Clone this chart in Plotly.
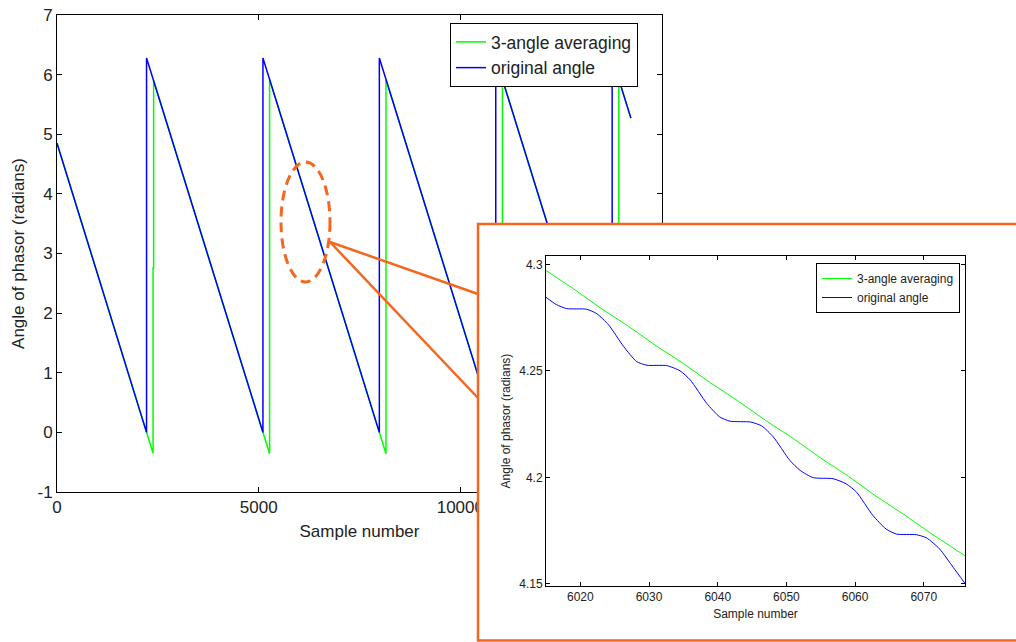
import plotly.graph_objects as go

W, H = 1016, 642

# ---- main chart: phase angle over the whole record (sawtooth vertices) ----
orig_x = [0, 2220, 2220, 5106, 5106, 7992, 7992, 10878, 10878, 13764, 13764, 14229]
orig_y = [4.85, 0.0, 6.28, 0.0, 6.28, 0.0, 6.28, 0.0, 6.28, 0.0, 6.28, 5.27]

avg_x = [0, 2220, 2382, 2382, 2396, 2396, 5106, 5271, 5271, 7992, 8157, 8157,
         10878, 11043, 11043, 13764, 13929, 13929, 14229]
avg_y = [4.85, 0.0, -0.35, 2.76, 2.76, 5.90, 0.0, -0.36, 5.92, 0.0, -0.36, 5.92,
         0.0, -0.36, 5.92, 0.0, -0.36, 5.92, 5.27]

main_xticks = [0, 5000, 10000, 15000]
main_yticks = [-1, 0, 1, 2, 3, 4, 5, 6, 7]
main_yticklabels = ["-1", "0", "1", "2", "3", "4", "5", "6", "7"]

# ---- zoomed view around sample 6015..6076 ----
zoom_orig_x = [6015.0, 6016.5, 6018.0, 6020.9, 6022.4, 6024.1, 6026.3, 6028.2, 6029.7,
               6032.6, 6034.5, 6036.0, 6038.4, 6040.3, 6041.8, 6044.8, 6046.4, 6048.1,
               6050.5, 6052.0, 6053.9, 6056.8, 6058.7, 6060.2, 6062.6, 6064.5, 6066.0,
               6068.9, 6070.4, 6072.3, 6074.3, 6076.0]
zoom_orig_y = [4.2846, 4.2812, 4.2793, 4.2790, 4.2769, 4.2717, 4.2615, 4.2544, 4.2527,
               4.2525, 4.2501, 4.2458, 4.2348, 4.2284, 4.2264, 4.2260, 4.2242, 4.2190,
               4.2080, 4.2033, 4.1999, 4.1994, 4.1970, 4.1931, 4.1821, 4.1758, 4.1734,
               4.1731, 4.1716, 4.1664, 4.1577, 4.1502]

zoom_avg_x = [6015, 6019, 6023, 6027, 6031, 6035, 6039, 6043, 6047, 6051, 6055,
              6059, 6063, 6067, 6071, 6076]
zoom_avg_y = [4.2972, 4.2886, 4.2794, 4.2710, 4.2619, 4.2535, 4.2443, 4.2358, 4.2267,
              4.2183, 4.2091, 4.2006, 4.1913, 4.1828, 4.1738, 4.1632]

zoom_xticks = [6020, 6030, 6040, 6050, 6060, 6070]
zoom_yticks = [4.15, 4.2, 4.25, 4.3]
zoom_yticklabels = ["4.15", "4.2", "4.25", "4.3"]

GREEN = "#00ff00"
BLUE = "#0000ff"
ORANGE = "#f5661e"
FONT = "Liberation Sans, Arial, sans-serif"


def fx(p):
    """pixel column -> paper fraction"""
    return p / W


def fy(p):
    """pixel row -> paper fraction (from bottom)"""
    return 1 - p / H


fig = go.Figure()

fig.add_trace(go.Scatter(x=avg_x, y=avg_y, mode="lines", name="3-angle averaging",
                         line=dict(color=GREEN, width=1.5), xaxis="x", yaxis="y",
                         legend="legend"))
fig.add_trace(go.Scatter(x=orig_x, y=orig_y, mode="lines", name="original angle",
                         line=dict(color=BLUE, width=1.5), xaxis="x", yaxis="y",
                         legend="legend"))

# empty subplot whose white background forms the callout panel
fig.add_trace(go.Scatter(x=[0], y=[0], mode="markers", marker=dict(opacity=0),
                         showlegend=False, hoverinfo="skip", xaxis="x2", yaxis="y2"))

fig.add_trace(go.Scatter(x=zoom_avg_x, y=zoom_avg_y, mode="lines", name="3-angle averaging",
                         line=dict(color=GREEN, width=1), xaxis="x3", yaxis="y3",
                         legend="legend2"))
fig.add_trace(go.Scatter(x=zoom_orig_x, y=zoom_orig_y, mode="lines", name="original angle",
                         line=dict(color=BLUE, width=1, shape="spline", smoothing=0.6),
                         xaxis="x3", yaxis="y3", legend="legend2"))

axis_common = dict(showline=True, linecolor="black", linewidth=1, mirror="ticks",
                   ticks="inside", tickcolor="black", showgrid=False, zeroline=False,
                   automargin=False)

fig.update_layout(
    width=W, height=H,
    margin=dict(l=0, r=0, t=0, b=0, pad=0, autoexpand=False),
    paper_bgcolor="white", plot_bgcolor="white",
    font=dict(family=FONT, color="#222222"),
    xaxis=dict(domain=[fx(57), fx(662)], range=[0, 15000], tickvals=main_xticks,
               ticktext=[str(v) for v in main_xticks], ticklen=5,
               tickfont=dict(size=17), title=dict(text="Sample number",
                                                   font=dict(size=17), standoff=8),
               anchor="y", **axis_common),
    yaxis=dict(domain=[fy(492), fy(15)], range=[-1, 7], tickvals=main_yticks,
               ticktext=main_yticklabels, ticklen=5, tickfont=dict(size=17),
               title=dict(text="Angle of phasor (radians)", font=dict(size=17), standoff=8),
               anchor="x", **axis_common),
    xaxis2=dict(domain=[fx(478), 1.0], range=[0, 1], visible=False, anchor="y2"),
    yaxis2=dict(domain=[0.0, fy(224)], range=[0, 1], visible=False, anchor="x2"),
    xaxis3=dict(domain=[fx(546), fx(965)], range=[6015, 6076], tickvals=zoom_xticks,
                ticklen=4, tickfont=dict(size=12),
                title=dict(text="Sample number", font=dict(size=12), standoff=6),
                anchor="y3", **axis_common),
    yaxis3=dict(domain=[fy(586), fy(256)], range=[4.149, 4.304], tickvals=zoom_yticks,
                ticktext=zoom_yticklabels, ticklen=4, tickfont=dict(size=12),
                title=dict(text="Angle of phasor (radians)", font=dict(size=12), standoff=6),
                anchor="x3", **axis_common),
    legend=dict(x=fx(450), y=fy(23), xanchor="left", yanchor="top",
                bgcolor="white", bordercolor="black", borderwidth=1,
                font=dict(size=17.5, color="#222222"), tracegroupgap=0),
    legend2=dict(x=fx(816), y=fy(263), xanchor="left", yanchor="top",
                 bgcolor="white", bordercolor="black", borderwidth=1,
                 font=dict(size=12, color="#222222"), tracegroupgap=0),
    showlegend=True,
)

# callout panel outline: top, left and bottom edges (open to the right)
panel_path = "M {r},{t} L {l},{t} L {l},{b} L {r},{b}".format(
    r=1.0, l=fx(478), t=fy(224), b=fy(640.5))

shapes = [
    # dashed ellipse marking the zoomed region
    dict(type="circle", xref="paper", yref="paper", x0=fx(281), x1=fx(330),
         y0=fy(282), y1=fy(162), line=dict(color=ORANGE, width=3, dash="10px,6px"),
         layer="above"),
    # callout lines to the panel
    dict(type="line", xref="paper", yref="paper", x0=fx(330), y0=fy(242),
         x1=fx(478), y1=fy(294), line=dict(color=ORANGE, width=2.5), layer="above"),
    dict(type="line", xref="paper", yref="paper", x0=fx(330), y0=fy(242),
         x1=fx(478), y1=fy(398), line=dict(color=ORANGE, width=2.5), layer="above"),
    dict(type="path", xref="paper", yref="paper", path=panel_path,
         line=dict(color=ORANGE, width=2.5), layer="above"),
]
fig.update_layout(shapes=shapes)

fig.write_html("out.html")
